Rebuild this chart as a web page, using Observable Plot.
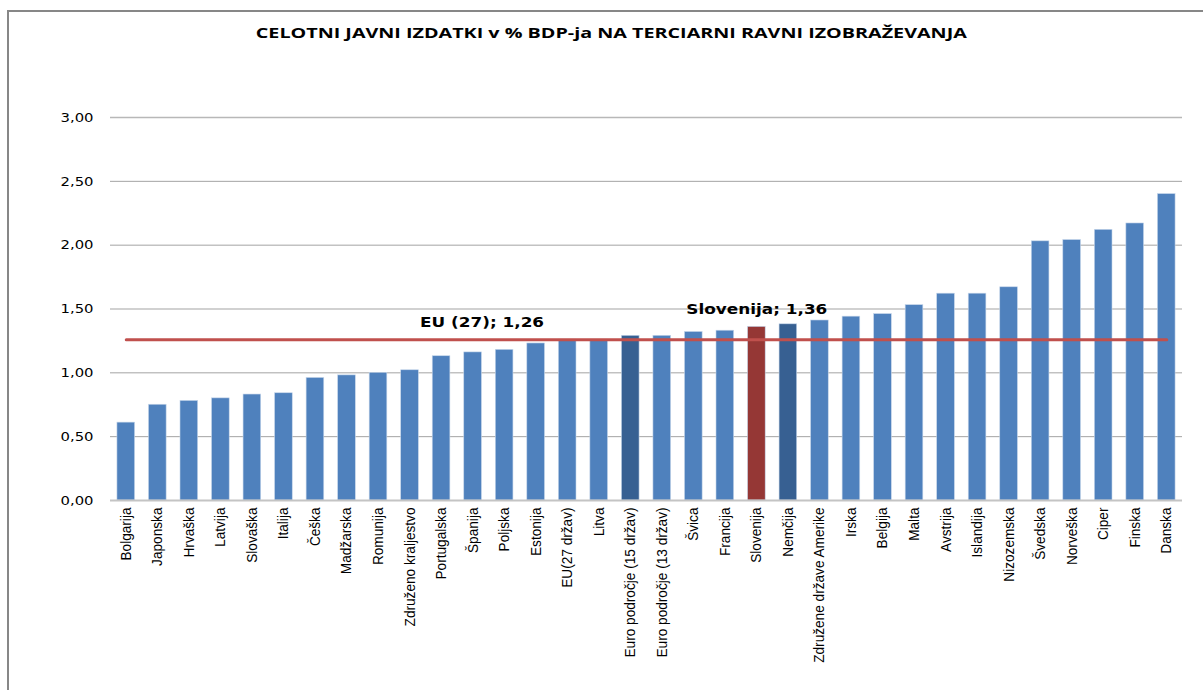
<!DOCTYPE html>
<html><head><meta charset="utf-8">
<script src="https://cdn.jsdelivr.net/npm/d3@7"></script>
<script src="https://cdn.jsdelivr.net/npm/@observablehq/plot@0.6"></script>
<style>
body{margin:0;background:#fff;}
#wrap{position:relative;width:1203px;height:690px;overflow:hidden;background:#fff;}
#border{position:absolute;left:7px;top:10px;width:1300px;height:800px;border:2px solid #878787;box-sizing:border-box;pointer-events:none;}
#title{position:absolute;top:23px;left:0;width:1222px;text-align:center;font-family:"Open Sans",sans-serif;font-weight:700;font-size:14px;line-height:20px;color:#000;white-space:nowrap;}
#title span{display:inline-block;transform-origin:center;}
#chart{position:absolute;left:0;top:0;}
</style>
</head><body>
<div id="wrap">
<div id="chart"></div>
<div id="border"></div>
<div id="title"><span id="tt"></span></div>
</div>
<script>
const titleText = "CELOTNI JAVNI IZDATKI v % BDP-ja NA TERCIARNI RAVNI IZOBRAŽEVANJA";
const categories = ["Bolgarija","Japonska","Hrvaška","Latvija","Slovaška","Italija","Češka","Madžarska","Romunija","Združeno kraljestvo","Portugalska","Španija","Poljska","Estonija","EU(27 držav)","Litva","Euro področje (15 držav)","Euro področje (13 držav)","Švica","Francija","Slovenija","Nemčija","Združene države Amerike","Irska","Belgija","Malta","Avstrija","Islandija","Nizozemska","Švedska","Norveška","Ciper","Finska","Danska"];
const values = [0.61,0.75,0.78,0.80,0.83,0.84,0.96,0.98,1.00,1.02,1.13,1.16,1.18,1.23,1.26,1.26,1.29,1.29,1.32,1.33,1.36,1.38,1.41,1.44,1.46,1.53,1.62,1.62,1.67,2.03,2.04,2.12,2.17,2.40];
const darkBlue = ["Euro področje (15 držav)","Nemčija"];
const highlight = "Slovenija";
const euLabel = "EU (27); 1,26";
const euValue = 1.26;
const sloLabel = "Slovenija; 1,36";
const yTicks = [0,0.5,1,1.5,2,2.5,3];

const data = categories.map((c,i)=>({cat:c, v:values[i]}));
const fmt = d => d.toFixed(2).replace(".", ",");
const colorOf = d => d.cat === highlight ? "#953735" : (darkBlue.includes(d.cat) ? "#376092" : "#4F81BD");

const chart = Plot.plot({
  width: 1203, height: 690,
  marginTop: 117, marginBottom: 190, marginLeft: 110, marginRight: 21,
  style: {background: "transparent", overflow: "visible"},
  x: {domain: categories, paddingInner: 0.44, paddingOuter: 0.22, round: false, label: null},
  y: {domain: [0,3], label: null},
  marks: [
    Plot.ruleY(yTicks.filter(t => t > 0 && t < 3), {stroke: "#a3a3a3", strokeWidth: 1}),
    Plot.ruleY([3], {stroke: "#b8b8b8", strokeWidth: 1.5}),
    Plot.barY(data, {x: "cat", y: "v", fill: colorOf, stroke: "#c6d6ea", strokeWidth: 0.6}),
    Plot.ruleY([0], {stroke: "#c4c4c4", strokeWidth: 2}),
    Plot.lineY(categories, {x: d => d, y: () => euValue, stroke: "#C0504D", strokeWidth: 3}),
    Plot.text([euLabel], {x: () => "Španija", y: () => euValue, text: d => d, dx: 9, dy: -17, fontFamily: "DejaVu Sans", fontWeight: "bold", fontSize: 14, fill: "#000", className: "eu-lab"}),
    Plot.text(data.filter(d => d.cat === highlight), {x: "cat", y: "v", text: () => sloLabel, dy: -17, fontFamily: "DejaVu Sans", fontWeight: "bold", fontSize: 14, fill: "#000", className: "slo-lab"}),
    Plot.axisY({ticks: yTicks, tickFormat: fmt, tickSize: 0, tickPadding: 17, fontSize: 13, fontFamily: "DejaVu Sans", label: null, color: "#000", className: "yax"}),
    Plot.axisX({tickRotate: -90, tickSize: 0, tickPadding: 7, fontSize: 14, fontFamily: "Liberation Sans", label: null, color: "#000", className: "xax"})
  ]
});
document.getElementById("chart").appendChild(chart);
function stretch(sel, len) {
  chart.querySelectorAll(sel).forEach(t => { t.setAttribute("textLength", len); t.setAttribute("lengthAdjust", "spacingAndGlyphs"); });
}
stretch(".eu-lab text", 124);
stretch(".slo-lab text", 141);
stretch(".yax text", 33);
const xTexts = Array.from(chart.querySelectorAll(".xax text"));
xTexts.forEach(t => { t.style.fontSize = "14px"; t.style.fontFamily = "Liberation Sans"; });
const refText = xTexts.find(t => t.textContent === "Euro področje (15 držav)");
const k = refText ? 150 / refText.getComputedTextLength() : 0.83;
xTexts.forEach(t => {
  const L = t.getComputedTextLength();
  t.setAttribute("textLength", (L * k).toFixed(1));
  t.setAttribute("lengthAdjust", "spacingAndGlyphs");
});
const tt = document.getElementById("tt");
tt.textContent = titleText;
const w = tt.getBoundingClientRect().width;
tt.style.transform = `scaleX(${711 / w})`;
</script>
</body></html>
